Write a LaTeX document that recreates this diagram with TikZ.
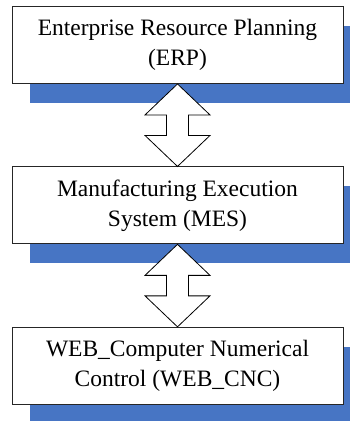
\documentclass[tikz,border=0pt]{standalone}
\usepackage{fontspec}
\setmainfont{Liberation Serif}
\usetikzlibrary{positioning,shadows}
\definecolor{shadowblue}{RGB}{71,117,196}
\tikzset{
  layer/.style={draw=black!85, fill=white, line width=0.9pt,
    minimum width=331pt, minimum height=77pt, inner sep=0pt,
    align=center, font=\fontsize{23.5}{30}\selectfont,
    drop shadow={shadow xshift=18pt, shadow yshift=-19.5pt, fill=shadowblue, opacity=1}},
  updown/.style={draw=black, fill=white, line width=0.8pt, line join=miter},
}
\begin{document}
\begin{tikzpicture}[node distance=82.5pt]
    \clip (0,0) rectangle (350pt,-421pt);
    \node[layer] (erp) at (177.5pt,-45pt) {Enterprise Resource Planning\\(ERP)};
    \node[layer, below=of erp] (mes) {Manufacturing Execution\\System (MES)};
    \node[layer, below=of mes] (cnc) {WEB\_Computer Numerical\\Control (WEB\_CNC)};
    % double block arrows between the layers
    \foreach \a/\b in {erp/mes, mes/cnc}
    \draw[updown] (\a.south) -- ++(32.5pt,-31pt) -- ++(-21.5pt,0) -- ++(0,-20.5pt) -- ++(21.5pt,0)
        -- (\b.north) -- ++(-32.5pt,31pt) -- ++(21.5pt,0) -- ++(0,20.5pt) -- ++(-21.5pt,0) -- cycle;
\end{tikzpicture}
\end{document}
